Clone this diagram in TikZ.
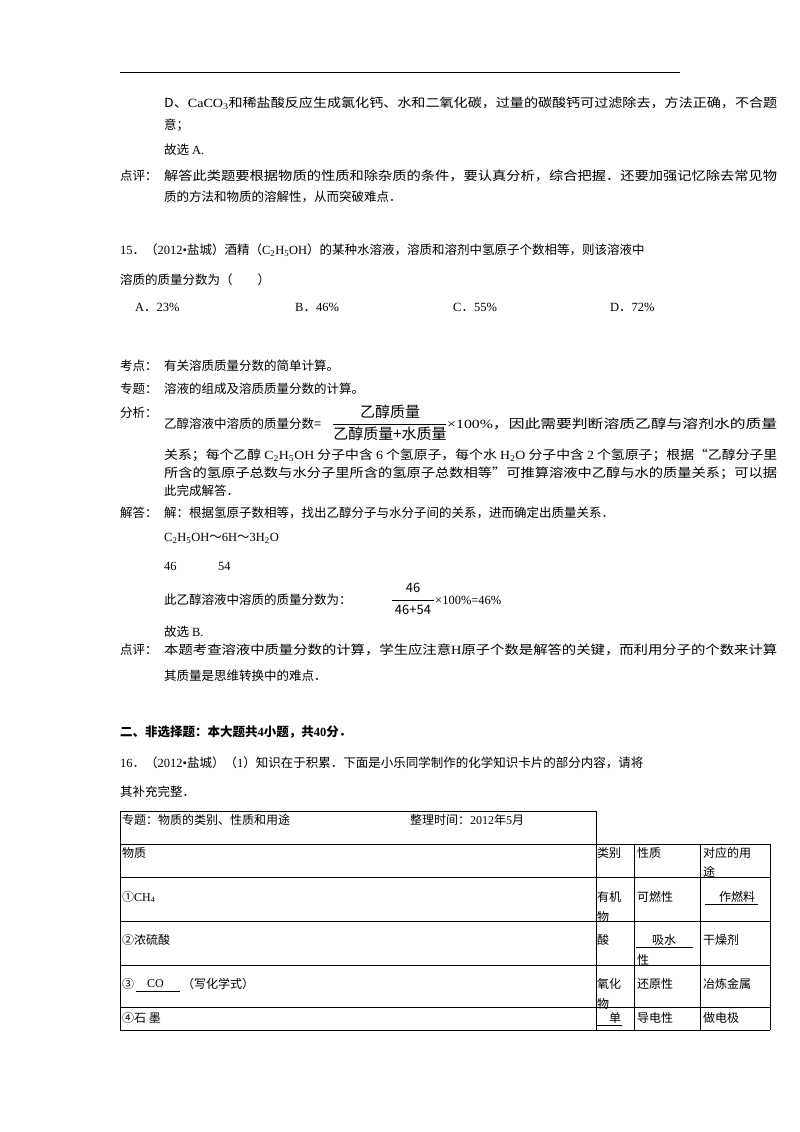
\documentclass[tikz,border=0pt]{standalone}
\usepackage{fontspec}
\usepackage{graphicx}
\setmainfont{Noto Sans CJK SC}
\newfontfamily\lat{Liberation Serif}
\newcommand\jl[2]{\resizebox{#1pt}{\height}{#2}}
\begin{document}
\begin{tikzpicture}[x=1pt,y=-1pt,
  t/.style={anchor=west,inner sep=0pt,font=\fontsize{12.5}{14}\selectfont},
  s/.style={anchor=west,inner sep=0pt,font=\fontsize{12}{14}\selectfont},
  tb/.style={line width=0.6pt}]
\useasboundingbox (0,0) rectangle (800,1132);
\draw[line width=0.8pt] (120,72) -- (680,72);
\node[t] (a1) at (164,103) {\jl{613}{D、{\lat CaCO\textsubscript{3}}和稀盐酸反应生成氯化钙、水和二氧化碳，过量的碳酸钙可过滤除去，方法正确，不合题}};
\node[t] (a2) at (164,125) {意；};
\node[t] (a3) at (164,150) {故选 {\lat A.}};
\node[t] (p1) at (120,176) {点评：};
\node[t] (p2) at (164,176) {\jl{613}{解答此类题要根据物质的性质和除杂质的条件，要认真分析，综合把握．还要加强记忆除去常见物}};
\node[t] (p3) at (164,197) {质的方法和物质的溶解性，从而突破难点．};
\node[t] (q1) at (120,250) {{\lat 15}．（{\lat 2012•}盐城）酒精（{\lat C\textsubscript{2}H\textsubscript{5}OH}）的某种水溶液，溶质和溶剂中氢原子个数相等，则该溶液中};
\node[t] (q2) at (120,280) {溶质的质量分数为（　　）};
\node[t] (oA) at (135,307) {{\lat A}．{\lat 23\%}};
\node[t] (oB) at (295,307) {{\lat B}．{\lat 46\%}};
\node[t] (oC) at (453,307) {{\lat C}．{\lat 55\%}};
\node[t] (oD) at (610,307) {{\lat D}．{\lat 72\%}};
\node[t] (k1) at (120,366) {考点：};
\node[t] (k2) at (164,366) {有关溶质质量分数的简单计算。};
\node[t] (z1) at (120,389) {专题：};
\node[t] (z2) at (164,389) {溶液的组成及溶质质量分数的计算。};
\node[t] (f1) at (120,413) {分析：};
\node[t] (f2) at (164,424) {乙醇溶液中溶质的质量分数=};
\node[inner sep=0pt,font=\fontsize{15}{16}\selectfont] (fn) at (390,412) {乙醇质量};
\node[inner sep=0pt,font=\fontsize{15}{16}\selectfont] (fd) at (390,434) {乙醇质量+水质量};
\draw[line width=0.5pt] (333,424) -- (446,424);
\node[t] (f3) at (447,424) {\jl{330}{{\lat ×100\%}，因此需要判断溶质乙醇与溶剂水的质量}};
\node[t] (f4) at (164,455) {\jl{613}{关系；每个乙醇 {\lat C\textsubscript{2}H\textsubscript{5}OH} 分子中含 {\lat 6} 个氢原子，每个水 {\lat H\textsubscript{2}O} 分子中含 {\lat 2} 个氢原子；根据“乙醇分子里}};
\node[t] (f5) at (164,473) {\jl{613}{所含的氢原子总数与水分子里所含的氢原子总数相等”可推算溶液中乙醇与水的质量关系；可以据}};
\node[t] (f6) at (164,491) {此完成解答．};
\node[t] (j1) at (120,513) {解答：};
\node[t] (j2) at (164,513) {解：根据氢原子数相等，找出乙醇分子与水分子间的关系，进而确定出质量关系．};
\node[t] (j3) at (164,538) {{\lat C\textsubscript{2}H\textsubscript{5}OH}～{\lat 6H}～{\lat 3H\textsubscript{2}O}};
\node[t] (j4) at (164,566) {{\lat 46}};
\node[t] (j5) at (218,566) {{\lat 54}};
\node[t] (j6) at (164,600) {此乙醇溶液中溶质的质量分数为：};
\node[inner sep=0pt,font=\fontsize{13}{14}\selectfont] (gn) at (413,588) {46};
\node[inner sep=0pt,font=\fontsize{13}{14}\selectfont] (gd) at (413,610) {46+54};
\draw[line width=0.5pt] (392,600) -- (434,600);
\node[t] (j7) at (435,600) {{\lat ×100\%=46\%}};
\node[t] (j8) at (164,632) {故选 {\lat B.}};
\node[t] (d1) at (120,650) {点评：};
\node[t] (d2) at (164,650) {\jl{613}{本题考查溶液中质量分数的计算，学生应注意{\lat H}原子个数是解答的关键，而利用分子的个数来计算}};
\node[t] (d3) at (164,676) {其质量是思维转换中的难点．};
\node[t,font=\fontsize{12.5}{14}\selectfont\bfseries] (h1) at (120,732) {二、非选择题：本大题共{\lat\bfseries 4}小题，共{\lat\bfseries 40}分．};
\node[t] (h2) at (120,763) {{\lat 16}．（{\lat 2012•}盐城）（{\lat 1}）知识在于积累．下面是小乐同学制作的化学知识卡片的部分内容，请将};
\node[t] (h3) at (120,792) {其补充完整．};
% table
\draw[tb] (120,811) -- (596,811) -- (596,844);
\draw[tb] (120,811) -- (120,1030);
\draw[tb] (120,844) -- (770,844) -- (770,1030);
\foreach \y in {877,921,965,1007,1030} \draw[tb] (120,\y) -- (770,\y);
\foreach \x in {596,634,700} \draw[tb] (\x,844) -- (\x,1030);
\node[s] (r1a) at (122,820) {专题：物质的类别、性质和用途};
\node[s] (r1b) at (410,820) {整理时间：{\lat 2012}年{\lat 5}月};
\node[s] (r2a) at (122,853) {物质};
\node[s] (r2b) at (597,853) {类别};
\node[s] (r2c) at (637,853) {性质};
\node[s] (r2d) at (703,853) {对应的用};
\node[s] (r2e) at (703,872) {途};
\node[s] (r3a) at (122,897) {①{\lat CH\textsubscript{4}}};
\node[s] (r3b) at (597,897) {有机};
\node[s] (r3b2) at (597,917) {物};
\node[s] (r3c) at (637,897) {可燃性};
\node[s] (r3d) at (719,897) {作燃料};
\draw[line width=0.5pt] (705,904) -- (758,904);
\node[s] (r4a) at (122,940) {②浓硫酸};
\node[s] (r4b) at (597,940) {酸};
\node[s] (r4c) at (652,940) {吸水};
\draw[line width=0.5pt] (636,947) -- (693,947);
\node[s] (r4c2) at (637,960) {性};
\node[s] (r4d) at (703,940) {干燥剂};
\node[s] (r5a) at (122,984) {③};
\node[s] (r5co) at (147,984) {{\lat CO}};
\draw[line width=0.5pt] (136,991) -- (180,991);
\node[s] (r5w) at (182,984) {（写化学式）};
\node[s] (r5b) at (597,984) {氧化};
\node[s] (r5b2) at (597,1004) {物};
\node[s] (r5c) at (637,984) {还原性};
\node[s] (r5d) at (703,984) {冶炼金属};
\node[s] (r6a) at (122,1018) {④石\ 墨};
\node[s] (r6b) at (609,1018) {单};
\draw[line width=0.5pt] (596,1025) -- (622,1025);
\node[s] (r6c) at (637,1018) {导电性};
\node[s] (r6d) at (703,1018) {做电极};
\end{tikzpicture}
\end{document}
